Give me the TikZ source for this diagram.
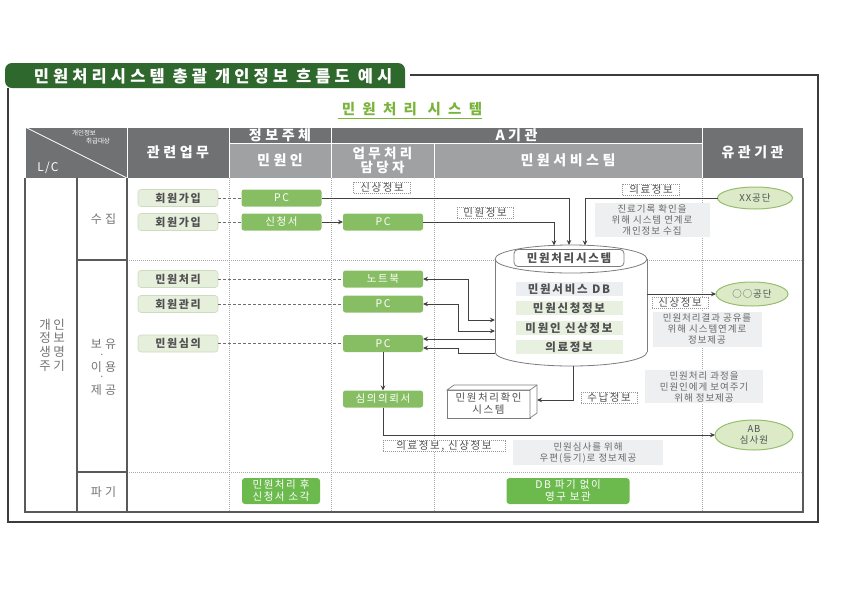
\documentclass[tikz,border=0pt]{standalone}
\usepackage{fontspec}
\setmainfont{Noto Sans CJK KR}
\newcommand{\lsp}[1]{\addfontfeatures{LetterSpace=#1}}
\usetikzlibrary{arrows.meta,calc,shapes.geometric}
\definecolor{dkgreen}{RGB}{47,104,44}
\definecolor{subgreen}{RGB}{122,180,60}
\definecolor{hdrdark}{RGB}{112,113,115}
\definecolor{hdrlight}{RGB}{160,161,163}
\definecolor{tblline}{RGB}{90,90,90}
\definecolor{dotline}{RGB}{170,170,170}
\definecolor{lgfill}{RGB}{230,238,220}
\definecolor{lgdraw}{RGB}{205,220,190}
\definecolor{gfill}{RGB}{135,190,100}
\definecolor{gfilltwo}{RGB}{108,186,78}
\definecolor{elfill}{RGB}{220,234,200}
\definecolor{eldraw}{RGB}{150,190,110}
\definecolor{notefill}{RGB}{237,239,240}
\definecolor{notetxt}{RGB}{105,105,105}
\definecolor{txt}{RGB}{80,80,80}
\definecolor{lctxt}{RGB}{115,115,115}
\definecolor{arr}{RGB}{65,65,65}
\definecolor{tagdraw}{RGB}{150,150,150}
\definecolor{dashgray}{RGB}{110,110,110}
\definecolor{cyldraw}{RGB}{125,125,125}
\definecolor{dbgray}{RGB}{236,239,241}
\definecolor{dbgreen}{RGB}{232,240,224}
\definecolor{framec}{RGB}{60,60,60}
\begin{document}
\begin{tikzpicture}[x=1pt,y=-1pt,
  every node/.style={inner sep=0pt, outer sep=0pt},
  hdrD/.style={fill=hdrdark, draw=white, line width=1pt, text=white, align=center,
    font=\fontsize{14}{14}\selectfont\bfseries\lsp{25}},
  hdrL/.style={hdrD, fill=hdrlight},
  lbox/.style={fill=lgfill, draw=lgdraw, line width=0.6pt, rounded corners=3pt,
    minimum width=80pt, minimum height=17pt, text=txt,
    font=\fontsize{11}{12}\selectfont\bfseries\lsp{15}},
  gbox/.style={fill=gfill, rounded corners=2.5pt, minimum width=80pt, minimum height=17pt,
    text=white, font=\fontsize{10.5}{12}\selectfont\lsp{15}},
  gboxtwo/.style={fill=gfilltwo, rounded corners=3pt, text=white, align=center,
    minimum height=26pt, font=\fontsize{10.5}{12}\selectfont\lsp{15}},
  tag/.style={draw=tagdraw, dash pattern=on 1pt off 1pt, fill=white, line width=0.6pt,
    minimum height=11pt, text=txt, font=\fontsize{10.5}{10.5}\selectfont\lsp{15}},
  note/.style={fill=notefill, text=notetxt, align=center, font=\fontsize{9.5}{11}\selectfont\lsp{10}},
  org/.style={ellipse, fill=elfill, draw=eldraw, line width=1pt, text=txt, align=center,
    font=\fontsize{9.5}{10.5}\selectfont\lsp{10}},
  dbitem/.style={minimum width=107pt, minimum height=14pt, text=txt,
    font=\fontsize{11.5}{12}\selectfont\bfseries\lsp{15}},
  lc/.style={text=lctxt, align=center},
  lcb/.style={lc, font=\fontsize{12}{12}\selectfont\lsp{27}},
  lcdot/.style={lc, font=\fontsize{10}{10}\selectfont},
  flow/.style={draw=arr, line width=0.9pt, -{Stealth[length=5pt,width=4.5pt]}},
  flowtwo/.style={draw=arr, line width=0.9pt, {Stealth[length=5pt,width=4.5pt]}-{Stealth[length=5pt,width=4.5pt]}},
  dashc/.style={draw=dashgray, line width=0.7pt, dash pattern=on 3pt off 2pt},
  dotl/.style={draw=dotline, line width=0.6pt, dash pattern=on 1pt off 1pt},
  tbl/.style={draw=tblline, line width=1.2pt},
  cyl/.style={draw=cyldraw, line width=0.8pt}
]
\useasboundingbox (0,0) rectangle (842,595);
% outer frame
\draw[draw=framec, line width=1.5pt] (410,75) -- (818,75) -- (818,522) -- (8,522) -- (8,88);
% title tab
\fill[dkgreen, rounded corners=7pt] (405,88) -- (5,88) -- (5,63) -- (405,63) -- (405,88);
\node[text=white, font=\fontsize{16.5}{18}\selectfont\bfseries\lsp{25}] (title) at (213,76.5) {민원처리시스템 총괄 개인정보 흐름도 예시};
\node[text=subgreen, font=\fontsize{14.5}{15}\selectfont\bfseries\lsp{50}] (sub) at (412,109) {민원처리 시스템};
\draw[subgreen, line width=0.8pt] (338,118) -- (482,118);

% header
\node[hdrD, minimum width=102pt, minimum height=51pt] (hlc) at (76,152.5) {};
\draw[white, line width=0.8pt] (hlc.north west) -- (hlc.south east);
\node[text=white, font=\fontsize{6.5}{7}\selectfont] (hlca) at (84,133) {개인정보};
\node[text=white, font=\fontsize{6.5}{7}\selectfont] (hlcb) at (98,141) {취급대상};
\node[text=white, font=\fontsize{12}{12}\selectfont\lsp{10}] (hlcc) at (48,168) {L/C};
\node[hdrD, minimum width=102pt, minimum height=51pt] (hrel) at (178,152.5) {관련업무};
\node[hdrD, minimum width=102pt, minimum height=16pt] (hsubj) at (280,135) {정보주체};
\node[hdrL, minimum width=102pt, minimum height=35pt] (hmin) at (280,160.5) {민원인};
\node[hdrD, minimum width=371pt, minimum height=16pt] (hA) at (516.5,135) {A기관};
\node[hdrL, minimum width=103pt, minimum height=35pt, font=\fontsize{13.5}{13.5}\selectfont\bfseries\lsp{25}] (hwork) at (382.5,160.5) {업무처리\\담당자};
\node[hdrL, minimum width=268pt, minimum height=35pt] (hteam) at (568,160.5) {민원서비스팀};
\node[hdrD, minimum width=101pt, minimum height=51pt] (horg) at (752.5,152.5) {유관기관};

% body grid
\draw[dotl] (127,260) -- (803,260);
\draw[dotl] (127,472) -- (803,472);
\foreach \xx in {229,331,434,702} \draw[dotl] (\xx,178) -- (\xx,512);
\draw[tbl] (25,178) -- (25,512) -- (803,512) -- (803,178);
\draw[tbl] (77,178) -- (77,512);
\draw[tbl] (127,178) -- (127,512);
\draw[tbl] (77,260) -- (127,260);
\draw[tbl] (77,472) -- (127,472);

% left column texts
\node[lc, font=\fontsize{12.5}{13.6}\selectfont\lsp{20}] (lcyc) at (52,345) {개인\\정보\\생명\\주기};
\node[lcb] (sj) at (103.5,219) {수집};
\node[lcb] (bua) at (103.5,344) {보유};
\node[lcdot] (bub) at (102,356) {·};
\node[lcb] (buc) at (103.5,367) {이용};
\node[lcdot] (bud) at (102,378.5) {·};
\node[lcb] (bue) at (103.5,390) {제공};
\node[lcb] (pg) at (103.5,492) {파기};

% related work boxes
\node[lbox] (r1) at (178,198) {회원가입};
\node[lbox] (r2) at (178,222) {회원가입};
\node[lbox] (r3) at (178,279) {민원처리};
\node[lbox] (r4) at (178,304) {회원관리};
\node[lbox] (r5) at (178,343.5) {민원심의};

% green boxes
\node[gbox] (pc1) at (281.5,198) {PC};
\node[gbox] (app) at (281.5,222) {신청서};
\node[gbox] (pc2) at (383,222) {PC};
\node[gbox] (nb) at (383,279) {노트북};
\node[gbox] (pc3) at (383,304) {PC};
\node[gbox] (pc4) at (383,343.5) {PC};
\node[gbox] (req) at (383,399) {심의의뢰서};
\node[gboxtwo, minimum width=78pt] (burn) at (281,491) {민원처리 후\\신청서 소각};
\node[gboxtwo, minimum width=123pt] (keep) at (568,491) {DB 파기 없이\\영구 보관};

% dashed links
\draw[dashc] (r1) -- (pc1);
\draw[dashc] (r2) -- (app);
\draw[dashc] (r3) -- (nb);
\draw[dashc] (r4) -- (pc3);
\draw[dashc] (r5) -- (pc4);

% cylinder
\fill[white] (495,259) rectangle (647,352);
\fill[white] (571,352) ellipse [x radius=76, y radius=14];
\draw[cyl] (571,259) ellipse [x radius=76, y radius=14];
\draw[cyl] (495,259) -- (495,352);
\draw[cyl] (647,259) -- (647,352);
\begin{scope}
\clip (480,352) rectangle (662,372);
\draw[cyl] (571,352) ellipse [x radius=76, y radius=14];
\end{scope}
\node[minimum width=152pt, minimum height=122pt] (sys) at (571,306) {};
\node[draw=cyldraw, fill=white, rounded corners=4pt, line width=0.8pt, minimum width=110pt, minimum height=17pt,
  text=txt, font=\fontsize{11.5}{12}\selectfont\bfseries\lsp{15}] (sysname) at (569,258) {민원처리시스템};
\node[dbitem, fill=dbgray] (db0) at (569,289) {민원서비스 DB};
\node[dbitem, fill=dbgreen] (db1) at (569,308) {민원신청정보};
\node[dbitem, fill=dbgreen] (db2) at (569,328) {미원인 신상정보};
\node[dbitem, fill=dbgreen] (db3) at (569,347) {의료정보};
\coordinate (sysTa) at (554,245.5);
\coordinate (sysTb) at (569,245);
\coordinate (sysTc) at (585,245.5);
\coordinate (sysLa) at (495,320);
\coordinate (sysLb) at (495,331);
\coordinate (sysLc) at (495,339);
\coordinate (sysLd) at (495,353);
\coordinate (sysR) at (647,294);
\coordinate (sysB) at (573,366);

% organisations
\node[org, minimum width=75pt, minimum height=22pt] (xx) at (755,198) {XX공단};
\node[org, minimum width=72pt, minimum height=24pt] (oo) at (752,294) {○○공단};
\node[org, minimum width=78pt, minimum height=30pt] (ab) at (754,435) {AB\\심사원};

% confirmation system box
\node[draw=cyldraw, fill=white, line width=0.7pt, minimum width=83pt, minimum height=28pt, align=center,
  text=txt, font=\fontsize{10.5}{12}\selectfont\lsp{15}] (chk) at (488.5,404) {민원처리확인\\시스템};
\filldraw[fill=white, draw=cyldraw, line width=0.7pt] (chk.north west) -- ++(7,-5) -- ++(83,0) -- ++(0,28) -- (chk.south east) -- (chk.north east) -- cycle;
\draw[cyldraw, line width=0.7pt] (chk.north east) -- ++(7,-5);
\coordinate (chkR) at ($(chk.north east)+(7,-4)+(0,14)$);

% notes
\node[note, minimum width=115pt, minimum height=34pt] (n1) at (652,220) {진료기록 확인을\\위해 시스템 연계로\\개인정보 수집};
\node[note, minimum width=109pt, minimum height=35pt] (n2) at (707,329) {민원처리결과 공유를\\위해 시스템연계로\\정보제공};
\node[note, minimum width=118pt, minimum height=33pt] (n3) at (704,386.5) {민원처리 과정을\\민원인에게 보여주기\\위해 정보제공};
\node[note, minimum width=150pt, minimum height=25pt] (n4) at (588,452.5) {민원심사를 위해\\우편(등기)로 정보제공};

% tags
\node[tag, minimum width=57pt] (ta) at (382,188) {신상정보};
\node[tag, minimum width=57pt] (tb) at (651,190) {의료정보};
\node[tag, minimum width=56pt] (tc) at (485,213) {민원정보};
\node[tag, minimum width=56pt] (td) at (680,303) {신상정보};
\node[tag, minimum width=56pt] (te) at (609,398) {수납정보};
\node[tag, minimum width=122pt] (tf) at (444,446) {의료정보, 신상정보};

% flows
\draw[flow] (pc1.east) -| (sysTb);
\draw[flow] (pc2.east) -| (sysTa);
\draw[flow] (xx.west) -| (sysTc);
\draw[flow] (app.east) -- (pc2.west);
\draw[flowtwo] (nb.east) -- ++(45,0) |- (sysLa);
\draw[flowtwo] (pc3.east) -- ++(35,0) |- (sysLb);
\draw[flow] (sysLc) -- (pc4.east |- sysLc);
\coordinate (kk) at (0,348);
\draw[flow] (sysLd) -- (458,353) |- (pc4.east |- kk);
\draw[flow] (sysR) -- (oo);
\draw[flow] (sysB) |- (chkR);
\draw[flow] (pc4.south) -- (req.north);
\draw[flow] (req.south) |- (ab.west);
\end{tikzpicture}
\end{document}
